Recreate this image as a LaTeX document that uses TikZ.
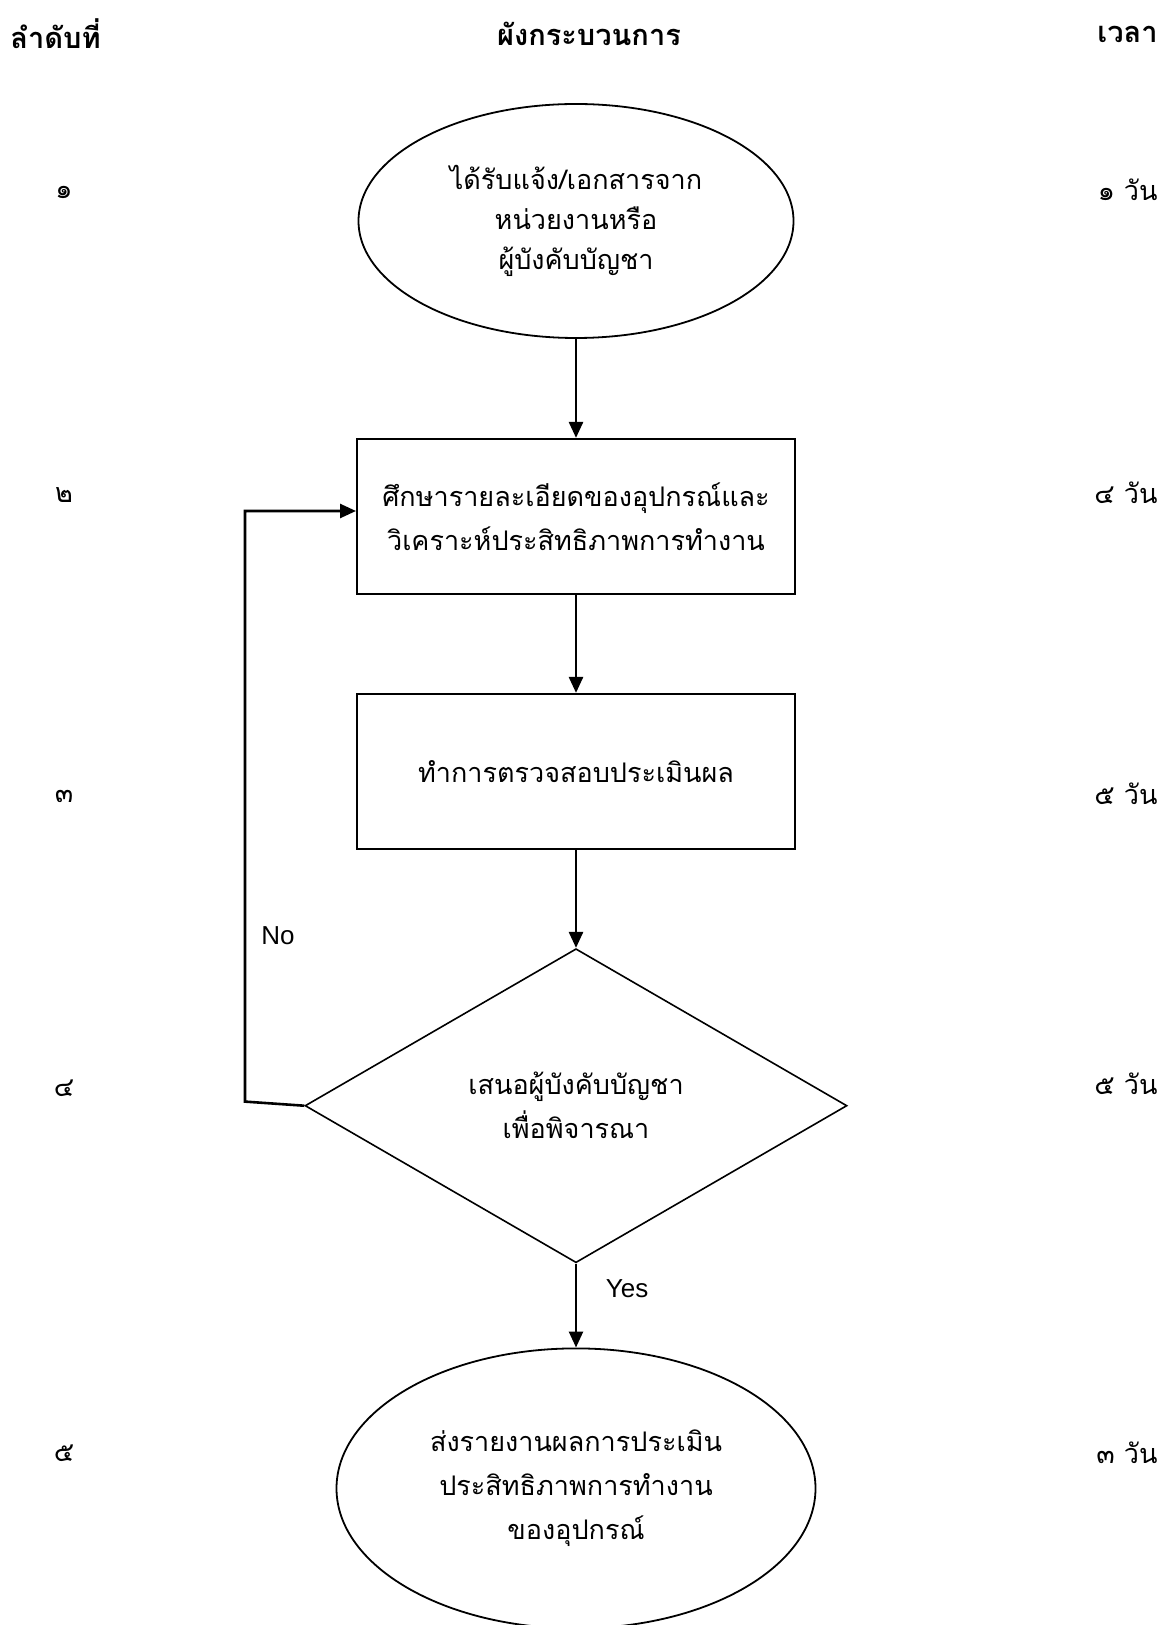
\documentclass[tikz,border=0pt]{standalone}
\usepackage{fontspec}
\setmainfont{Liberation Sans}
\newfontfamily\thaifont[Script=Thai]{Loma}
\usetikzlibrary{positioning,shapes.geometric,arrows.meta}

\begin{document}
\begin{tikzpicture}[
  x=0.5pt, y=-0.5pt,
  >={Triangle[length=8pt,width=7pt]},
  node distance=49pt,
  every node/.style={font=\thaifont\fontsize{13.5}{22}\selectfont, align=center},
  startend/.style={draw, ellipse, line width=0.9pt, inner sep=0pt},
  proc/.style={draw, line width=1pt, minimum width=219pt, minimum height=77.5pt},
  decision/.style={draw, diamond, line width=0.8pt, minimum width=271pt, minimum height=157pt, inner sep=0pt},
  head/.style={font=\thaifont\bfseries\fontsize{14.5}{19}\selectfont, inner sep=0pt},
  num/.style={inner sep=0pt},
  latin/.style={font=\fontsize{13}{15}\selectfont},
  flow/.style={->, line width=1.3pt}
]
\useasboundingbox (0,0) rectangle (1172,1625);

% column headers
\node[head, anchor=west] (hstep) at (10,34) {ลำดับที่};
\node[head] (hflow) at (589,34) {ผังกระบวนการ};
\node[head, anchor=east] (htime) at (1158,34) {เวลา};

% process chart
\node[startend, minimum width=217.5pt, minimum height=117pt, font=\thaifont\fontsize{13.5}{20}\selectfont] (recv) at (576,221) {ได้รับแจ้ง/เอกสารจาก\\หน่วยงานหรือ\\ผู้บังคับบัญชา};
\node[proc, below=49.5pt of recv] (study) {ศึกษารายละเอียดของอุปกรณ์และ\\วิเคราะห์ประสิทธิภาพการทำงาน};
\node[proc, below=of study] (check) {ทำการตรวจสอบประเมินผล};
\node[decision, below=of check] (propose) {เสนอผู้บังคับบัญชา\\เพื่อพิจารณา};
\node[startend, minimum width=239.5pt, minimum height=140pt, below=42pt of propose] (report) {ส่งรายงานผลการประเมิน\\ประสิทธิภาพการทำงาน\\ของอุปกรณ์};

% step numbers
\node[num] (n1) at (64,192) {๑};
\node[num] (n2) at (64,495) {๒};
\node[num] (n3) at (64,796) {๓};
\node[num] (n4) at (64,1088) {๔};
\node[num] (n5) at (64,1453) {๕};

% durations
\node[num, anchor=east] (t1) at (1158,190) {๑ วัน};
\node[num, anchor=east] (t2) at (1158,493) {๔ วัน};
\node[num, anchor=east] (t3) at (1158,794) {๕ วัน};
\node[num, anchor=east] (t4) at (1158,1084) {๕ วัน};
\node[num, anchor=east] (t5) at (1158,1453) {๓ วัน};

\draw[flow] (recv) -- (study);
\draw[flow] (study) -- (check);
\draw[flow] (check) -- (propose);
\draw[flow] (propose) -- node[latin, pos=0.3, anchor=west, xshift=11pt] (yes) {Yes} (report);

% back to study when not approved
\coordinate (noleft) at (245,1101.6);
\coordinate (notop) at (245,511);
\draw[flow] (propose.west) -- (noleft) -- (notop) -- (notop -| study.west);
\node[latin] (no) at (278,936) {No};

\end{tikzpicture}
\end{document}
